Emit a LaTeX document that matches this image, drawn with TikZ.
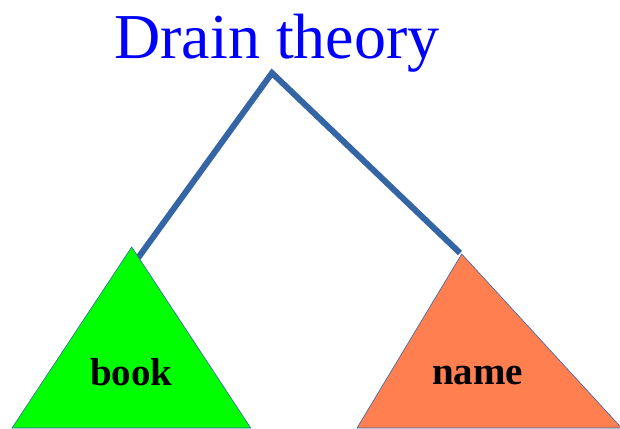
\documentclass[tikz,border=0pt]{standalone}
\usepackage{fontspec}
\setmainfont{Liberation Serif}
\usepackage{tikz}
\usetikzlibrary{calc,positioning}
\definecolor{titleblue}{HTML}{0000FF}
\definecolor{branchblue}{HTML}{3465A4}
\definecolor{leafgreen}{HTML}{00FF00}
\definecolor{leaforange}{HTML}{FF7F50}
\tikzset{
  branch/.style={branchblue, line width=6pt, line join=miter},
  leaf/.style={draw=branchblue, line width=0.6pt},
  titlenode/.style={text=titleblue, font=\fontsize{64}{70}\selectfont, inner sep=0pt, anchor=base},
  leaflabel/.style={font=\fontsize{39}{43}\selectfont\bfseries, inner sep=0pt, anchor=base}
}

\begin{document}
\begin{tikzpicture}[x=1pt, y=-1pt]
  \useasboundingbox (0,0) rectangle (620,428);
  \node[titlenode] (title) at (277,59) {Drain theory};
  \coordinate (top) at (272,73);
  \coordinate (lefttip) at (138,258);
  \coordinate (righttip) at (460,253);
  \draw[branch] (lefttip) -- (top) -- (righttip);
  % leaves
  \coordinate (bookapex) at (131.7,247);
  \coordinate (nameapex) at (461.7,254);
  \draw[leaf, fill=leafgreen] (bookapex) -- (12,428) -- (250.7,428) -- cycle;
  \draw[leaf, fill=leaforange] (nameapex) -- (357,428) -- (621.6,428) -- cycle;
  \node[leaflabel] (book) at (131.5,385) {book};
  \node[leaflabel] (name) at (477.5,384) {name};
\end{tikzpicture}
\end{document}
